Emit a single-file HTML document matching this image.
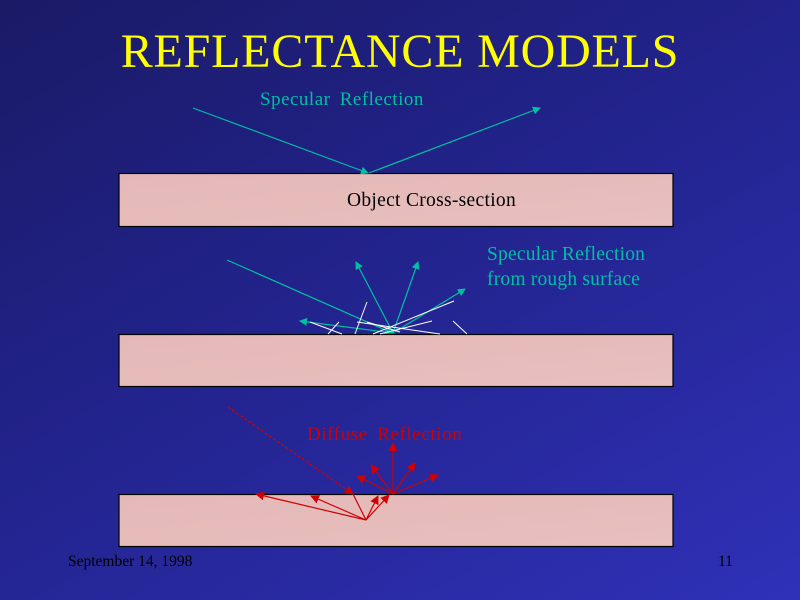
<!DOCTYPE html>
<html><head><style>
html,body{margin:0;padding:0}
body{width:800px;height:600px;overflow:hidden;background:linear-gradient(150deg,#1a1a66 0%,#22238c 45%,#2f31b8 100%);position:relative;font-family:"Liberation Serif",serif}
.t{position:absolute;white-space:nowrap}
</style></head><body>
<svg width="800" height="600" style="position:absolute;left:0;top:0">
<defs>
<linearGradient id="pk" x1="0" y1="0" x2="1" y2="1"><stop offset="0" stop-color="#e4b8b8"/><stop offset="1" stop-color="#e8c0be"/></linearGradient>
<marker id="g" markerWidth="8" markerHeight="8" refX="7" refY="4" orient="auto" markerUnits="userSpaceOnUse"><path d="M0,0L8,4L0,8z" fill="#00c0a0"/></marker>
<marker id="r" markerWidth="9" markerHeight="9" refX="8" refY="4.5" orient="auto" markerUnits="userSpaceOnUse"><path d="M0,0L9,4.5L0,9z" fill="#d00000"/></marker>
</defs>
<rect x="119" y="173.5" width="554" height="53" fill="url(#pk)" stroke="#000" stroke-width="1.2"/>
<rect x="119" y="334.5" width="554" height="52" fill="url(#pk)" stroke="#000" stroke-width="1.2"/>
<rect x="119" y="494.5" width="554" height="52" fill="url(#pk)" stroke="#000" stroke-width="1.2"/>
<g stroke="#00c0a0" stroke-width="1.2" fill="none">
<line x1="193" y1="108" x2="368" y2="173" marker-end="url(#g)"/>
<line x1="369" y1="173" x2="540" y2="108" marker-end="url(#g)"/>
<line x1="227" y1="260" x2="392" y2="333" marker-end="url(#g)"/>
<line x1="393" y1="333" x2="356" y2="262" marker-end="url(#g)"/>
<line x1="393" y1="333" x2="418" y2="262" marker-end="url(#g)"/>
<line x1="393" y1="333" x2="465" y2="289" marker-end="url(#g)"/>
<line x1="393" y1="333" x2="300" y2="321" marker-end="url(#g)"/>
</g>
<g stroke="#fff" stroke-width="1" fill="none">
<line x1="367" y1="302" x2="355" y2="334"/>
<line x1="339" y1="322" x2="328" y2="334"/>
<line x1="453" y1="321" x2="467" y2="334"/>
<line x1="454" y1="301" x2="373" y2="334"/>
<line x1="432" y1="321" x2="380" y2="334"/>
<line x1="310" y1="322" x2="342" y2="334"/>
<line x1="357" y1="322" x2="440" y2="334"/>
<line x1="367" y1="322" x2="400" y2="332"/>
</g>
<g stroke="#d00000" stroke-width="1.2" fill="none">
<line x1="228" y1="407" x2="353" y2="494" stroke-dasharray="3,2" marker-end="url(#r)"/>
<line x1="353" y1="494" x2="366" y2="520"/>
<line x1="366" y1="520" x2="256" y2="494" marker-end="url(#r)"/>
<line x1="366" y1="520" x2="311" y2="496" marker-end="url(#r)"/>
<line x1="366" y1="520" x2="378" y2="496" marker-end="url(#r)"/>
<line x1="366" y1="520" x2="389" y2="495" marker-end="url(#r)"/>
<line x1="393" y1="494" x2="393" y2="443" marker-end="url(#r)"/>
<line x1="393" y1="494" x2="371" y2="465" marker-end="url(#r)"/>
<line x1="393" y1="494" x2="357" y2="476" marker-end="url(#r)"/>
<line x1="393" y1="494" x2="415" y2="463" marker-end="url(#r)"/>
<line x1="393" y1="494" x2="438" y2="475" marker-end="url(#r)"/>
</g>
</svg>
<div class="t" style="left:0;width:800px;text-align:center;top:23px;font-size:48px;letter-spacing:0.8px;color:#ffff00;line-height:58px">REFLECTANCE MODELS</div>
<div class="t" style="left:260px;top:89px;font-size:19px;letter-spacing:0.5px;color:#00c0a0;word-spacing:4px">Specular Reflection</div>
<div class="t" style="left:347px;top:190px;font-size:19.5px;letter-spacing:0.3px;color:#000">Object Cross-section</div>
<div class="t" style="left:487px;top:242px;font-size:19.5px;letter-spacing:0.2px;color:#00c0a0;line-height:25px">Specular Reflection<br>from rough surface</div>
<div class="t" style="left:307px;top:424px;font-size:19px;letter-spacing:0.6px;color:#d00000;word-spacing:4px">Diffuse Reflection</div>
<div class="t" style="left:68px;top:553px;font-size:15.5px;color:#000">September 14, 1998</div>
<div class="t" style="left:718px;top:553px;font-size:15.5px;color:#000">11</div>
</body></html>
